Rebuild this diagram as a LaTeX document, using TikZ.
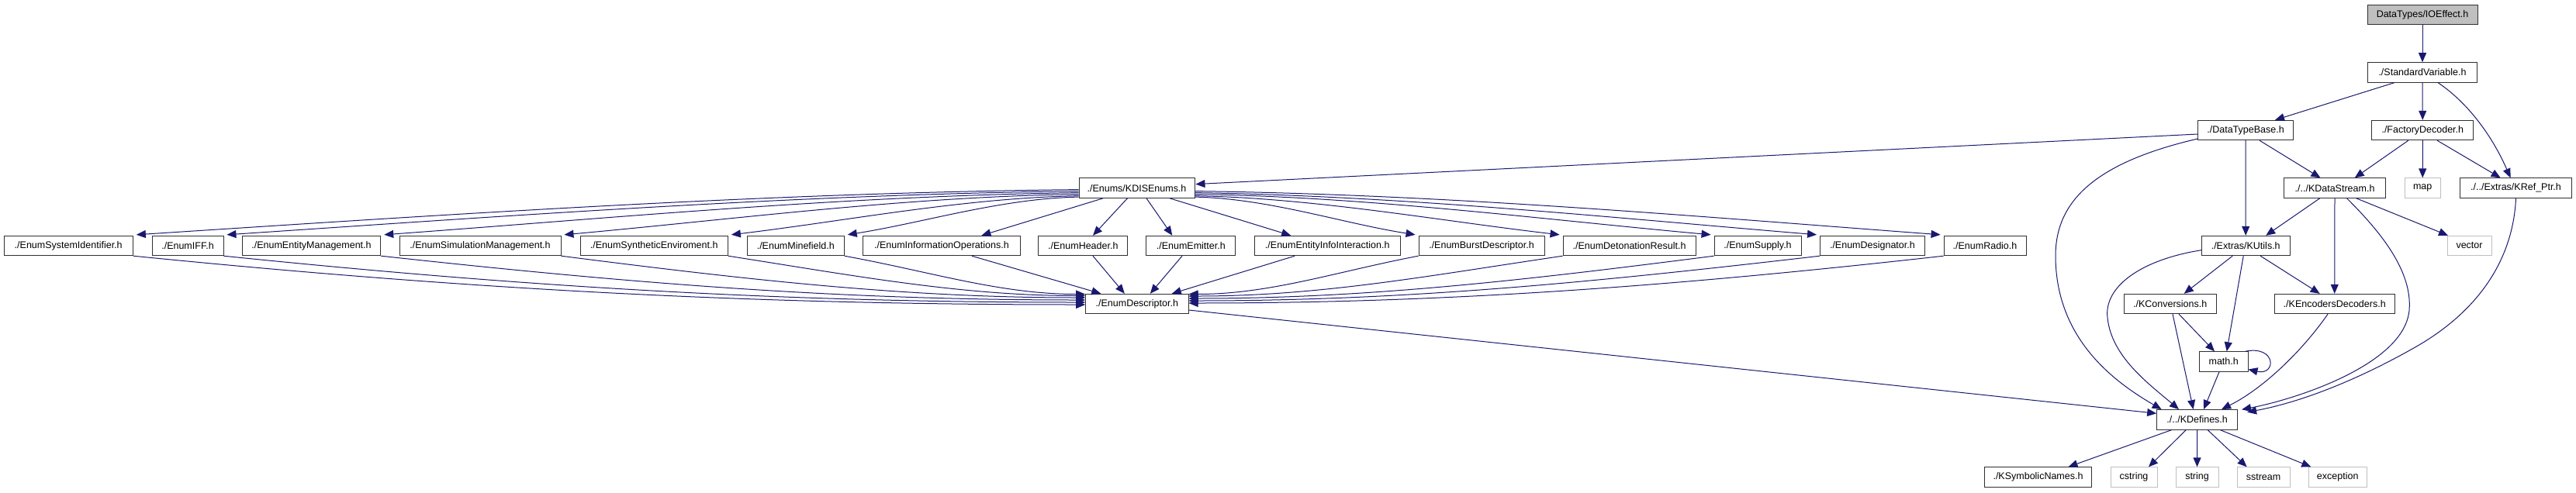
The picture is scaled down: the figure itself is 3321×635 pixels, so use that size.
\documentclass[tikz,border=0pt]{standalone}
\usepackage{fontspec}
\setmainfont{Liberation Sans}
\usetikzlibrary{arrows.meta,calc}
\definecolor{edgecol}{HTML}{191970}
\definecolor{lightbd}{HTML}{BFBFBF}
\definecolor{rootfill}{HTML}{BFBFBF}
\definecolor{boxbd}{HTML}{303030}
\tikzset{
  box/.style={draw=boxbd, line width=0.9pt, fill=white, minimum height=25.5pt, inner sep=0pt, font=\fontsize{12.5}{14}\selectfont},
  extbox/.style={box, draw=lightbd},
  rootbox/.style={box, fill=rootfill},
  e/.style={draw=edgecol, line width=1pt, -{Triangle[length=12pt,width=10pt]}}
}
\begin{document}
\begin{tikzpicture}[x=1pt,y=-1pt]
\fill[white] (0,0) rectangle (3321,635);
\useasboundingbox (0,0) rectangle (3321,635);
% rows
\node[rootbox, minimum width=142pt] (ioe) at (3123,19) {DataTypes/IOEffect.h};
\node[box, minimum width=141pt] (stdv) at (3123,93.4) {./StandardVariable.h};
\node[box, minimum width=122.5pt] (dtb) at (2895,168) {./DataTypeBase.h};
\node[box, minimum width=131pt] (fdec) at (3123.3,168) {./FactoryDecoder.h};
\node[box, minimum width=149pt] (kdis) at (1465.5,242.6) {./Enums/KDISEnums.h};
\node[box, minimum width=131pt] (kds) at (3010,242.6) {./../KDataStream.h};
\node[extbox, minimum width=46.5pt] (map) at (3123.2,242.6) {map};
\node[box, minimum width=144.3pt] (kref) at (3243.5,242.6) {./../Extras/KRef\_Ptr.h};
% enum row
\node[box, minimum width=166.4pt] (esys) at (88.2,317) {./EnumSystemIdentifier.h};
\node[box, minimum width=92pt] (eiff) at (242,317) {./EnumIFF.h};
\node[box, minimum width=178.6pt] (eent) at (401.5,317) {./EnumEntityManagement.h};
\node[box, minimum width=208pt] (esim) at (619,317) {./EnumSimulationManagement.h};
\node[box, minimum width=190.4pt] (esyn) at (843.2,317) {./EnumSyntheticEnviroment.h};
\node[box, minimum width=125pt] (emin) at (1025.8,317) {./EnumMinefield.h};
\node[box, minimum width=202.8pt] (einf) at (1213.9,317) {./EnumInformationOperations.h};
\node[box, minimum width=114.8pt] (ehdr) at (1396.3,317) {./EnumHeader.h};
\node[box, minimum width=114.8pt] (eemi) at (1535.3,317) {./EnumEmitter.h};
\node[box, minimum width=188.5pt] (eeii) at (1711.2,317) {./EnumEntityInfoInteraction.h};
\node[box, minimum width=162pt] (ebur) at (1910,317) {./EnumBurstDescriptor.h};
\node[box, minimum width=171pt] (edet) at (2100.5,317) {./EnumDetonationResult.h};
\node[box, minimum width=112pt] (esup) at (2266,317) {./EnumSupply.h};
\node[box, minimum width=134.8pt] (edes) at (2413.9,317) {./EnumDesignator.h};
\node[box, minimum width=106pt] (erad) at (2559,317) {./EnumRadio.h};
\node[box, minimum width=113.5pt] (kut) at (2895.2,317) {./Extras/KUtils.h};
\node[extbox, minimum width=57pt] (vec) at (3183.5,317) {vector};
% row 5
\node[box, minimum width=132.5pt] (edesc) at (1465.8,392) {./EnumDescriptor.h};
\node[box, minimum width=118.5pt] (kconv) at (2797.7,392) {./KConversions.h};
\node[box, minimum width=154.6pt] (kenc) at (3009.7,392) {./KEncodersDecoders.h};
% row 6,7
\node[box, minimum width=62.6pt] (math) at (2866.7,466.5) {math.h};
\node[box, minimum width=104pt] (kdef) at (2832.6,541.3) {./../KDefines.h};
% row 8
\node[box, minimum width=138pt] (ksym) at (2627.5,615.5) {./KSymbolicNames.h};
\node[extbox, minimum width=60pt] (cstr) at (2751,615.5) {cstring};
\node[extbox, minimum width=55pt] (str) at (2832.5,615.5) {string};
\node[extbox, minimum width=68pt] (sstr) at (2918,615.5) {sstream};
\node[extbox, minimum width=75.5pt] (exc) at (3013.7,615.5) {exception};

% top edges
\draw[e] (ioe) -- (stdv);
\draw[e] ($(stdv.south)+(-36,0)$) -- ($(dtb.north)+(38,0)$);
\draw[e] (stdv) -- (fdec);
\draw[e] ($(stdv.south)+(20,0)$) .. controls (3185,135) and (3215,180) .. ($(kref.north)+(-7,0)$);
\draw[e] ($(dtb.west)+(0,5)$) -- ($(kdis.east)+(1,-5)$);
\draw[e] (dtb) -- (kut);
\draw[e] ($(dtb.south)+(18,0)$) -- ($(kds.north)+(-18.5,0)$);
\draw[e] ($(dtb.west)+(0,11)$) .. controls (2700,210) and (2650,260) .. (2650,330) .. controls (2650,440) and (2730,495) .. ($(kdef.north)+(-46,0)$);
\draw[e] ($(fdec.south)+(-18.5,0)$) -- ($(kds.north)+(25.7,0)$);
\draw[e] (fdec) -- (map);
\draw[e] ($(fdec.south)+(18.7,0)$) -- ($(kref.north)+(-19.8,0)$);
\draw[e] ($(kds.south)+(-19.3,0)$) -- ($(kut.north)+(26,0)$);
\draw[e] (kds) -- (kenc);
\draw[e] ($(kds.south)+(27.7,0)$) -- ($(vec.north)+(-27.5,0)$);
\draw[e] ($(kds.south)+(15.5,0)$) .. controls (3070,300) and (3110,350) .. (3106,400) .. controls (3100,470) and (2960,515) .. ($(kdef.east)+(5,-13)$);
\draw[e] (kref.south) .. controls (3240,330) and (3200,400) .. (3110,450) .. controls (3030,495) and (2960,520) .. ($(kdef.east)+(12,-9.6)$);
\draw[e] ($(kut.south)+(-17,0)$) -- ($(kconv.north)+(18,0)$);
\draw[e] ($(kut.south)+(-3,0)$) -- ($(math.north)+(4,0)$);
\draw[e] ($(kut.south)+(19,0)$) -- ($(kenc.north)+(-19,0)$);
\draw[e] ($(kut.west)+(0,5.7)$) .. controls (2760,335) and (2712,370) .. (2717,410) .. controls (2722,460) and (2770,495) .. ($(kdef.north)+(-23.6,0)$);
\draw[e] ($(kconv.south)+(11.3,0)$) -- ($(math.north)+(-11.7,0)$);
\draw[e] ($(kconv.south)+(3.3,0)$) -- ($(kdef.north)+(-5,0)$);
\draw[e] ($(math.north east)+(-4,0)$) .. controls (2935,445) and (2935,485) .. ($(math.east)+(0,10)$);
\draw[e] ($(math.south)+(-5.7,0)$) -- ($(kdef.north)+(8.4,0)$);
\draw[e] ($(kenc.south)+(-8.7,0)$) .. controls (2970,450) and (2920,500) .. ($(kdef.north)+(31.4,0)$);
\draw[e] ($(kdef.south)+(-32.6,0)$) -- ($(ksym.north)+(39,0)$);
\draw[e] ($(kdef.south)+(-14.2,0)$) -- ($(cstr.north)+(19,0)$);
\draw[e] (kdef) -- (str);
\draw[e] ($(kdef.south)+(13.4,0)$) -- ($(sstr.north)+(-21.4,0)$);
\draw[e] ($(kdef.south)+(29.4,0)$) -- ($(exc.north)+(-34.4,0)$);
\draw[e] ($(edesc.east)+(0,8)$) -- ($(kdef.west)+(0,-8)$);

% KDISEnums fan out
\draw[e] ($(kdis.west)+(0,2)$) .. controls +(-400,4) and +(400,-26) .. ($(esys.north east)+(4,-1)$);
\draw[e] ($(kdis.west)+(0,4)$) .. controls +(-360,4) and +(360,-24) .. ($(eiff.north east)+(4,-1)$);
\draw[e] ($(kdis.west)+(0,6)$) .. controls +(-300,4) and +(300,-22) .. ($(eent.north east)+(4,-1)$);
\draw[e] ($(kdis.west)+(0,8)$) .. controls +(-220,3) and +(220,-20) .. ($(esim.north east)+(4,-1)$);
\draw[e] ($(kdis.west)+(0,10)$) .. controls +(-150,3) and +(150,-18) .. ($(esyn.north east)+(4,-1)$);
\draw[e] ($(kdis.west)+(0,11.5)$) .. controls +(-100,2) and +(100,-16) .. ($(emin.north east)+(4,-1)$);
\draw[e] ($(kdis.south)+(-43.5,0)$) -- ($(einf.north)+(51.5,0)$);
\draw[e] ($(kdis.south)+(-12,0)$) -- ($(ehdr.north)+(12.7,0)$);
\draw[e] ($(kdis.south)+(12.5,0)$) -- ($(eemi.north)+(-24,0)$);
\draw[e] ($(kdis.south)+(42.5,0)$) -- ($(eeii.north)+(-47,0)$);
\draw[e] ($(kdis.east)+(0,11.5)$) .. controls +(95,2) and +(-95,-15) .. ($(ebur.north west)+(-4,-1)$);
\draw[e] ($(kdis.east)+(0,10)$) .. controls +(155,3) and +(-155,-18) .. ($(edet.north west)+(-4,-1)$);
\draw[e] ($(kdis.east)+(0,8)$) .. controls +(220,3) and +(-220,-20) .. ($(esup.north west)+(-4,-1)$);
\draw[e] ($(kdis.east)+(0,6)$) .. controls +(265,4) and +(-265,-22) .. ($(edes.north west)+(-4,-1)$);
\draw[e] ($(kdis.east)+(0,4)$) .. controls +(320,4) and +(-320,-24) .. ($(erad.north west)+(-4,-1)$);

% enums into EnumDescriptor
\draw[e] (esys.south east) .. controls +(430,43) and +(-430,0) .. ($(edesc.west)+(0,1)$);
\draw[e] (eiff.south east) .. controls +(390,40) and +(-390,0) .. ($(edesc.west)+(0,-2)$);
\draw[e] (eent.south east) .. controls +(320,35) and +(-320,0) .. ($(edesc.west)+(0,-5)$);
\draw[e] (esim.south east) .. controls +(235,30) and +(-235,0) .. ($(edesc.west)+(0,-8)$);
\draw[e] (esyn.south east) .. controls +(160,25) and +(-160,0) .. ($(edesc.west)+(0,-10.5)$);
\draw[e] (emin.south east) .. controls +(110,20) and +(-110,0) .. ($(edesc.west)+(0,-12.5)$);
\draw[e] ($(einf.south)+(39,0)$) -- ($(edesc.north)+(-46.5,0)$);
\draw[e] ($(ehdr.south)+(12.7,0)$) -- ($(edesc.north)+(-16,0)$);
\draw[e] ($(eemi.south)+(-11.3,0)$) -- ($(edesc.north)+(17,0)$);
\draw[e] ($(eeii.south)+(-42,0)$) -- ($(edesc.north)+(45,0)$);
\draw[e] (ebur.south west) .. controls +(-105,20) and +(105,0) .. ($(edesc.east)+(0,-12.5)$);
\draw[e] (edet.south west) .. controls +(-170,25) and +(170,0) .. ($(edesc.east)+(0,-10)$);
\draw[e] (esup.south west) .. controls +(-235,30) and +(235,0) .. ($(edesc.east)+(0,-7)$);
\draw[e] (edes.south west) .. controls +(-285,33) and +(285,0) .. ($(edesc.east)+(0,-4)$);
\draw[e] (erad.south west) .. controls +(-340,38) and +(340,0) .. ($(edesc.east)+(0,-1)$);
\end{tikzpicture}
\end{document}
